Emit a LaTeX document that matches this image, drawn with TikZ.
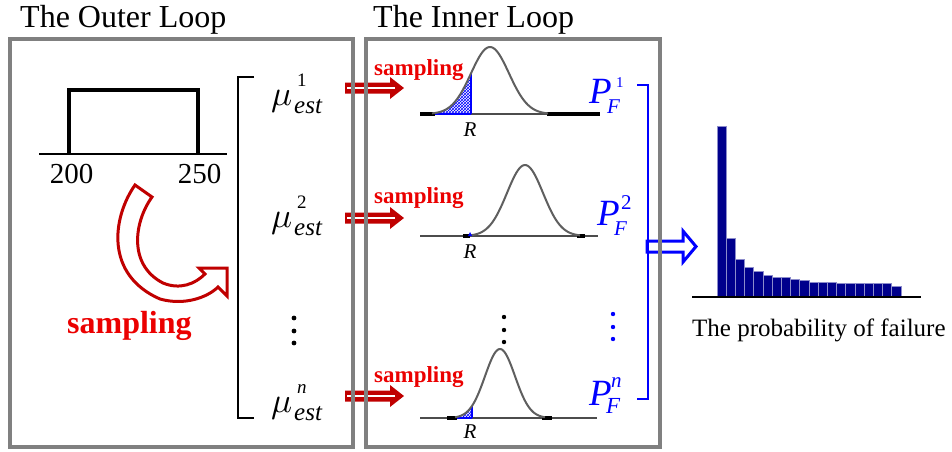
\documentclass[tikz,border=0pt]{standalone}
\usepackage{fontspec}
\setmainfont{Liberation Serif}
\usetikzlibrary{patterns}
\definecolor{dred}{RGB}{192,0,0}
\definecolor{sred}{RGB}{235,0,0}
\definecolor{boxgray}{RGB}{128,128,128}
\definecolor{curvegray}{RGB}{95,95,95}
\definecolor{navybar}{RGB}{0,0,140}
\newcommand\fs[1]{\fontsize{#1}{#1}\selectfont}
% mu with superscript and subscript "est"
\newcommand\muest[1]{\makebox[23pt][l]{\scalebox{3.5}{$\mu$}}\rlap{\hspace{3pt}\raisebox{19pt}{\fs{19}#1}}\raisebox{-8pt}{\fs{25}\itshape est}}
% P with superscript and subscript F: #1 sup, #2 P width, #3 sup shift, #4 sup raise, #5 sub drop, #6 sup size, #7 F size
\newcommand\pfail[7]{\makebox[#2pt][l]{\fs{37}\itshape P}\rlap{\hspace{#3pt}\raisebox{#4pt}{\fs{#6}#1}}\raisebox{-#5pt}{\fs{#7}\itshape F}}
\begin{document}
\begin{tikzpicture}[x=1pt,y=-1pt,
  txt/.style={inner sep=0pt, anchor=base west},
  loopbox/.style={draw=boxgray, line width=3.3},
  gcurve/.style={curvegray, line width=2},
  gbase/.style={curvegray!80!black, line width=1.6},
  gthick/.style={black, line width=3.5},
  hatch/.style={pattern=crosshatch, pattern color=blue},
  redarrowstyle/.style={fill=dred},
  samp/.style={txt, text=sred, font=\bfseries}]
\useasboundingbox (0,0) rectangle (952,451);
\fill[white] (0,0) rectangle (952,451);

% titles
\node[txt] (tout) at (20,27) {\fs{32}The Outer Loop};
\node[txt] (tin) at (373,27) {\fs{32}The Inner Loop};

% uniform distribution
\draw[line width=2] (39,154) -- (227,154);
\draw[line width=3.3, line join=miter] (69,154) -- (69,90) -- (198,90) -- (198,154);
\node[txt, anchor=base] (l200) at (71.5,183) {\fs{29}200};
\node[txt, anchor=base] (l250) at (199.5,183) {\fs{29}250};

% curved hollow arrow
\draw[dred, line width=3, fill=white, line join=miter]
  (135,185) .. controls (112,218) and (105,275) .. (160,299)
  .. controls (185,306) and (208,297) .. (218,287)
  -- (227,296) -- (227,268) -- (199,268) -- (205,274)
  .. controls (195,284) and (180,290) .. (163,283)
  .. controls (128,265) and (134,222) .. (152,197) -- cycle;
\node[samp] (sout) at (67,333) {\fs{32}sampling};

% left bracket
\draw[line width=2] (254,77) -- (238,77) -- (238,418) -- (254,418);

% mu labels
\node[txt] (mu1) at (271,105) {\muest{1}};
\node[txt] (mu2) at (271,227) {\muest{2}};
\node[txt] (mun) at (271,412) {\muest{\itshape n}};
\foreach \yy in {318,331,343} \fill (294,\yy) circle (2.4);

% red arrows
\foreach \yy/\nm in {88/ra1,218/ra2,396/ra3} {
  \fill[redarrowstyle] (345,\yy-5.5) -- (390,\yy-5.5) -- (390,\yy-11) -- (404,\yy) -- (390,\yy+11) -- (390,\yy+5.5) -- (345,\yy+5.5) -- cycle;
  \draw[white, line width=1.1] (347,\yy) -- (395,\yy);
  \coordinate (\nm) at (404,\yy);
}

% sampling labels inner
\node[samp] (s1) at (374,75) {\fs{23}sampling};
\node[samp] (s2) at (374,203) {\fs{23}sampling};
\node[samp] (s3) at (374,382) {\fs{23}sampling};

% gaussian 1
\draw[gbase] (420,114) -- (600,114);
\draw[gthick] (420,114) -- (435,114);
\draw[gthick] (547,114) -- (600,114);
\fill[hatch] (435,114) -- plot[domain=435:471, samples=25] (\x, {114-67*exp(-((\x-490)^2)/722)}) -- (471,114) -- cycle;
\draw[blue, line width=1.2] (471,114) -- (471,73.4);
\draw[blue, line width=1.2] (435,114) -- (471,114);
\draw[gcurve] plot[domain=432:548, samples=70, smooth] (\x, {114-67*exp(-((\x-490)^2)/722)});
\node[txt, anchor=base] (R1) at (470,136) {\fs{21}\itshape R};

% gaussian 2
\draw[gbase] (420,236) -- (598,236);
\draw[gthick] (463,236) -- (470,236);
\draw[gthick] (577,236) -- (585,236);
\draw[gcurve] plot[domain=470:580, samples=70, smooth] (\x, {236-71*exp(-((\x-525)^2)/648)});
\fill[blue] (468,236) -- (472,236) -- (470,232) -- cycle;
\node[txt, anchor=base] (R2) at (470,258) {\fs{21}\itshape R};
\foreach \yy in {317,330,342} \fill (504,\yy) circle (2.2);

% gaussian 3
\draw[gbase] (420,418) -- (597,418);
\draw[gthick] (447,418) -- (457,418);
\draw[gthick] (542,418) -- (552,418);
\fill[hatch] (457,418) -- plot[domain=457:472, samples=15] (\x, {418-69*exp(-((\x-500)^2)/450)}) -- (472,418) -- cycle;
\draw[blue, line width=1.2] (472,418) -- (472,{418-69*exp(-(28^2)/450)});
\draw[blue, line width=1.2] (457,418) -- (472,418);
\draw[gcurve] plot[domain=455:545, samples=70, smooth] (\x, {418-69*exp(-((\x-500)^2)/450)});
\node[txt, anchor=base] (R3) at (470,438) {\fs{21}\itshape R};

% P_F labels
\node[txt, text=blue] (P1) at (589,103) {\pfail{1}{18}{9}{16}{10}{15}{21}};
\node[txt, text=blue] (P2) at (597,225) {\pfail{2}{17}{7}{16}{10}{21}{21}};
\node[txt, text=blue] (Pn) at (589,405) {\pfail{\itshape n}{17}{5}{18}{8}{21}{23}};
\foreach \yy in {314,327,339} \fill[blue] (613,\yy) circle (2.2);

% right blue bracket
\draw[blue, line width=1.5] (637,85) -- (648,85) -- (648,399) -- (637,399);

% blue hollow arrow
\draw[blue, line width=3, line join=miter] (647,241) -- (683,241) -- (683,231) -- (696,246.5) -- (683,262) -- (683,252) -- (647,252) -- cycle;

% histogram
\foreach \t [count=\i from 0] in {126,238,259,267,271,275,277,277,279,280,282,282,282,283,283,283,283,283,283,286} {
  \fill[navybar, draw=navybar!45!white, line width=0.7] ({717+9.2*\i},\t) rectangle ({717+9.2*(\i+1)},296);
}
\draw[line width=1.5] (692,297) -- (921,297);
\node[txt] (hist) at (692,336) {\fs{25}The probability of failure};

% boxes
\draw[loopbox] (10,39) rectangle (353,447);
\draw[loopbox] (366,39) rectangle (660,447);
\end{tikzpicture}
\end{document}
